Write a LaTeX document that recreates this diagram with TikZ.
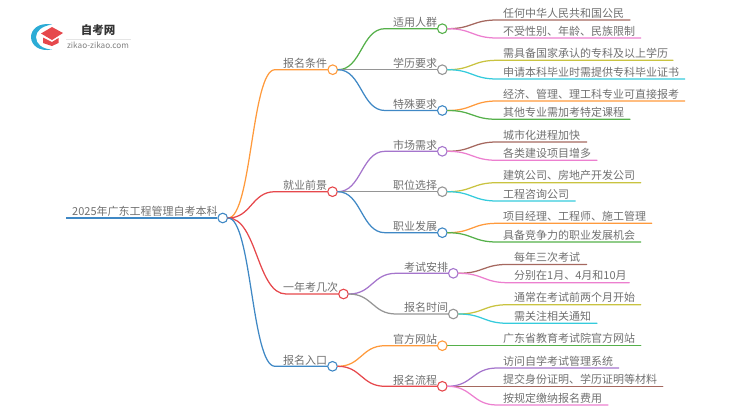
\documentclass[tikz,border=0pt]{standalone}
\usepackage{fontspec}
\setmainfont{Noto Sans CJK SC}
\usetikzlibrary{calc}
\definecolor{cOrange}{HTML}{FF9A3C}
\definecolor{cRed}{HTML}{E6484C}
\definecolor{cBlue}{HTML}{3F88C5}
\definecolor{cGreen}{HTML}{55B04A}
\definecolor{cGray}{HTML}{959595}
\definecolor{cPurple}{HTML}{A575CC}
\definecolor{cBrown}{HTML}{A5685F}
\definecolor{cPink}{HTML}{EC7FCF}
\definecolor{cOlive}{HTML}{C9C340}
\definecolor{cCyan}{HTML}{35CBDC}
\definecolor{cText}{HTML}{707070}
\tikzset{
  dot/.style={circle,draw=#1,fill=white,line width=1.1pt,minimum size=9.6pt,inner sep=0pt},
  lbl/.style={anchor=base west,inner sep=0pt,text=cText,font=\fontsize{11}{11}\selectfont},
  link/.style={line width=1.25pt,line cap=round},
  stem/.style={line width=1.9pt}
}
% colour, from, to, x where the curve ends
\newcommand\conn[4]{%
  \coordinate (tmpb) at (#4,0 |- #3);
  \draw[link,#1] (#2.east) .. controls ($(#2.east)!.5!(#2.east -| tmpb)$) and ($(tmpb)!.5!(#2.east |- tmpb)$) .. (tmpb) -- (#3);
}
\newcommand\leaf[5]{% name, colour, parent, xend/y, text
  \coordinate (#1) at (#4);
  \conn{#2}{#3}{#1}{497}
  \node[lbl] (#1t) at ($(#1 -| 503,0)+(0,-3)$) {#5};
}
\newcommand\leafb[5]{%
  \coordinate (#1) at (#4);
  \conn{#2}{#3}{#1}{508}
  \node[lbl] (#1t) at ($(#1 -| 514,0)+(0,-3)$) {#5};
}
\begin{document}
\begin{tikzpicture}[x=1pt,y=-1pt]
\useasboundingbox (0,0) rectangle (750,410);
% logo
\fill[cBlue!70!cyan] (52,24.5) .. controls (38,22) and (31,30) .. (31,37) .. controls (31,45) and (39,52) .. (52,49.5) .. controls (42,49) and (36,44) .. (36,37) .. controls (36,31) and (42,26) .. (52,24.5) -- cycle;
\fill[cRed] (41,33.5) -- (52,27) -- (63,33) -- (52,40) -- cycle;
\fill[cRed] (43,37.5) -- (52,42) -- (58.5,38) -- (58.5,43) -- (52,46) -- (43,43) -- cycle;
\node[inner sep=0pt,text=black!80,font=\fontsize{11.5}{12}\selectfont\bfseries] (logoa) at (98,30.5) {自考网};
\node[inner sep=0pt,text=black!50,font=\fontsize{8.2}{9}\selectfont] (logob) at (98,45) {zikao-zikao.com};
\draw[black!10,line width=.5pt] (66,39) -- (131,39);

% main nodes
\node[dot=cBlue] (root) at (222.7,218) {};
\node[dot=cOrange] (a) at (332.7,69.7) {};
\node[dot=cRed] (b) at (332.5,191.7) {};
\node[dot=cRed] (c) at (343.5,294) {};
\node[dot=cBlue] (d) at (332.5,366.3) {};
\node[dot=cGreen] (a1) at (442.3,28.7) {};
\node[dot=cGray] (a2) at (442.3,69.7) {};
\node[dot=cBlue] (a3) at (442.3,110.5) {};
\node[dot=cPurple] (b1) at (442.3,151.3) {};
\node[dot=cGray] (b2) at (442.3,191.7) {};
\node[dot=cBlue] (b3) at (442.3,232.7) {};
\node[dot=cPurple] (c1) at (453.3,273.3) {};
\node[dot=cGray] (c2) at (453.3,314) {};
\node[dot=cOrange] (d1) at (442.3,345.7) {};
\node[dot=cRed] (d2) at (442.3,386.3) {};

% root stem
\coordinate (start) at (66,218);
\draw[stem,cBlue] (start) -- (root.west);
\node[lbl] (roott) at (72,215.2) {2025年广东工程管理自考本科};

% first level
\conn{cOrange}{root}{a}{275}
\conn{cRed}{root}{b}{275}
\conn{cRed}{root}{c}{286}
\conn{cBlue}{root}{d}{275}
\node[lbl] (at) at (283,67.4) {报名条件};
\node[lbl] (bt) at (283,189.4) {就业前景};
\node[lbl] (ct) at (283,291.7) {一年考几次};
\node[lbl] (dt) at (283,364) {报名入口};

% second level
\conn{cGreen}{a}{a1}{385}
\conn{cGray}{a}{a2}{385}
\conn{cBlue}{a}{a3}{385}
\conn{cPurple}{b}{b1}{385}
\conn{cGray}{b}{b2}{385}
\conn{cBlue}{b}{b3}{385}
\conn{cPurple}{c}{c1}{396}
\conn{cGray}{c}{c2}{396}
\conn{cOrange}{d}{d1}{385}
\conn{cRed}{d}{d2}{385}
\node[lbl] (a1t) at (393,26.4) {适用人群};
\node[lbl] (a2t) at (393,67.4) {学历要求};
\node[lbl] (a3t) at (393,108.2) {特殊要求};
\node[lbl] (b1t) at (393,149) {市场需求};
\node[lbl] (b2t) at (393,189.4) {职位选择};
\node[lbl] (b3t) at (393,230.4) {职业发展};
\node[lbl] (c1t) at (404,271) {考试安排};
\node[lbl] (c2t) at (404,311.7) {报名时间};
\node[lbl] (d1t) at (393,343.4) {官方网站};
\node[lbl] (d2t) at (393,384) {报名流程};

% leaves
\leaf{l1}{cBrown}{a1}{630,20}{任何中华人民共和国公民}
\leaf{l2}{cPink}{a1}{640.7,38}{不受性别、年龄、民族限制}
\leaf{l3}{cOlive}{a2}{673,60.3}{需具备国家承认的专科及以上学历}
\leaf{l4}{cCyan}{a2}{684.7,79}{申请本科毕业时需提供专科毕业证书}
\leaf{l5}{cOrange}{a3}{684.7,101}{经济、管理、理工科专业可直接报考}
\leaf{l6}{cGreen}{a3}{630,119.3}{其他专业需加考特定课程}
\leaf{l7}{cBrown}{b1}{586.7,142}{城市化进程加快}
\leaf{l8}{cPink}{b1}{597,160.3}{各类建设项目增多}
\leaf{l9}{cOlive}{b2}{640.7,182.7}{建筑公司、房地产开发公司}
\leaf{l10}{cCyan}{b2}{575.3,201}{工程咨询公司}
\leaf{l11}{cOrange}{b3}{651.7,223.3}{项目经理、工程师、施工管理}
\leaf{l12}{cGreen}{b3}{640.7,242}{具备竞争力的职业发展机会}
\leafb{l13}{cBrown}{c1}{586.7,264.4}{每年三次考试}
\leafb{l14}{cPink}{c1}{629.3,282.7}{分别在1月、4月和10月}
\leafb{l15}{cOlive}{c2}{640.7,304.7}{通常在考试前两个月开始}
\leafb{l16}{cCyan}{c2}{597,323.3}{需关注相关通知}
\coordinate (l17) at (640.7,345.7);
\draw[link,cGreen] (d1.east) -- (l17);
\node[lbl] (l17t) at (503,342.7) {广东省教育考试院官方网站};
\leaf{l18}{cPurple}{d2}{618.7,368}{访问自学考试管理系统}
\coordinate (l19) at (662.7,386.3);
\draw[link,cBrown] (d2.east) -- (l19);
\node[lbl] (l19t) at (503,383.3) {提交身份证明、学历证明等材料};
\leaf{l20}{cPink}{d2}{608,405}{按规定缴纳报名费用}
\end{tikzpicture}
\end{document}
